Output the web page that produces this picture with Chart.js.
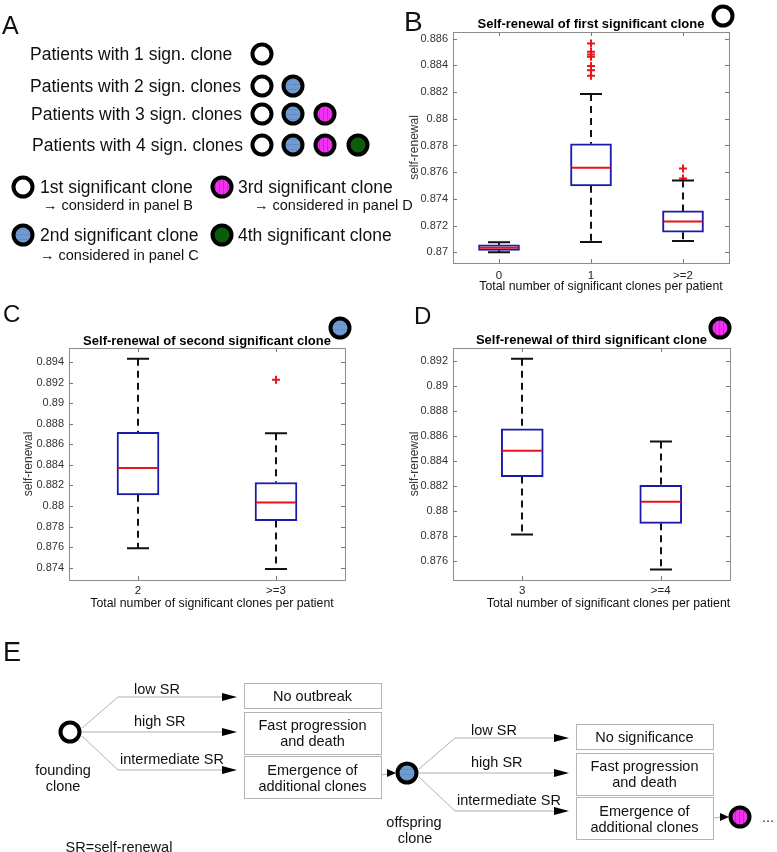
<!DOCTYPE html>
<html>
<head>
<meta charset="utf-8">
<script src="https://cdn.jsdelivr.net/npm/chart.js@4.4.0/dist/chart.umd.min.js"></script>
<style>
body { margin: 0; background: #fff; }
#fig { position: relative; width: 777px; height: 852px; overflow: hidden; font-family: 'Liberation Sans', Arial, sans-serif; }
canvas { position: absolute; }
#deco { position: absolute; left: 0; top: 0; pointer-events: none; }
</style>
</head>
<body>
<div id="fig">
  <canvas id="chartB" width="370" height="300" style="left:407px;top:0px"></canvas>
  <canvas id="chartC" width="372" height="320" style="left:21px;top:300px"></canvas>
  <canvas id="chartD" width="370" height="320" style="left:407px;top:300px"></canvas>
  <svg id="deco" width="777" height="852">
    <defs>
      <pattern id="pBlue" width="6" height="5" patternUnits="userSpaceOnUse">
        <rect width="6" height="5" fill="#6f9bd2"/>
        <line x1="0" y1="4.5" x2="6" y2="4.5" stroke="#5d86bb" stroke-width="0.7"/>
      </pattern>
      <pattern id="pMag" width="4" height="6" patternUnits="userSpaceOnUse">
        <rect width="4" height="6" fill="#f232f2"/>
        <line x1="3.5" y1="0" x2="3.5" y2="6" stroke="#c21cc2" stroke-width="0.7"/>
      </pattern>
    </defs>
  </svg>
</div>
<script>
// panel B: first significant clone
const bCats = ['0', '1', '>=2']
const bLow = [0.8700, 0.87077, 0.87084]
const bQ1 = [0.87015, 0.87498, 0.87151]
const bMed = [0.87035, 0.87634, 0.8723]
const bQ3 = [0.87057, 0.87813, 0.8731]
const bHigh = [0.87075, 0.88185, 0.87538]
const bOut = [[], [0.88564, 0.88502, 0.88482, 0.88464, 0.88396, 0.88363, 0.88322], [0.87627, 0.87553]]
const bTicks = [0.87, 0.872, 0.874, 0.876, 0.878, 0.88, 0.882, 0.884, 0.886]
const bRange = [0.8692, 0.8865]

// panel C: second significant clone
const cCats = ['2', '>=3']
const cLow = [0.87588, 0.87387]
const cQ1 = [0.88108, 0.87858]
const cMed = [0.88368, 0.88033]
const cQ3 = [0.88715, 0.88228]
const cHigh = [0.89432, 0.88708]
const cOut = [[], [0.89228]]
const cTicks = [0.874, 0.876, 0.878, 0.88, 0.882, 0.884, 0.886, 0.888, 0.89, 0.892, 0.894]
const cRange = [0.8728, 0.89536]

// panel D: third significant clone
const dCats = ['3', '>=4']
const dLow = [0.87811, 0.8753]
const dQ1 = [0.88275, 0.879]
const dMed = [0.88482, 0.88074]
const dQ3 = [0.88658, 0.88205]
const dHigh = [0.89221, 0.88557]
const dOut = [[], []]
const dTicks = [0.876, 0.878, 0.88, 0.882, 0.884, 0.886, 0.888, 0.89, 0.892]
const dRange = [0.87445, 0.89307]

const xTitle = 'Total number of significant clones per patient'
const fontFam = "'Liberation Sans', Arial, sans-serif"

Chart.defaults.font.family = fontFam

//whiskers, caps, medians, titles and the matlab style frame
function boxPlugin(s) {
    return {
        id: 'boxWhiskers',
        beforeDatasetsDraw(chart) {
            const ctx = chart.ctx, x = chart.scales.x, y = chart.scales.y
            ctx.save()
            ctx.strokeStyle = '#111'
            ctx.lineWidth = 2
            ctx.setLineDash([7, 5])
            s.low.forEach(function(v, i) {
                const px = Math.round(x.getPixelForValue(i))
                ctx.beginPath()
                ctx.moveTo(px, y.getPixelForValue(s.high[i]))
                ctx.lineTo(px, y.getPixelForValue(s.q3[i]))
                ctx.moveTo(px, y.getPixelForValue(s.q1[i]))
                ctx.lineTo(px, y.getPixelForValue(v))
                ctx.stroke()
            })
            ctx.restore()
        },
        afterDatasetsDraw(chart) {
            const ctx = chart.ctx, x = chart.scales.x, y = chart.scales.y
            ctx.save()
            ctx.lineWidth = 2
            s.low.forEach(function(v, i) {
                const px = Math.round(x.getPixelForValue(i))
                ctx.strokeStyle = '#111'
                ctx.beginPath()
                ctx.moveTo(px - 11, y.getPixelForValue(v))
                ctx.lineTo(px + 11, y.getPixelForValue(v))
                ctx.moveTo(px - 11, y.getPixelForValue(s.high[i]))
                ctx.lineTo(px + 11, y.getPixelForValue(s.high[i]))
                ctx.stroke()
                ctx.strokeStyle = '#e8141c'
                ctx.beginPath()
                ctx.moveTo(px - s.barW / 2 + 1, y.getPixelForValue(s.med[i]))
                ctx.lineTo(px + s.barW / 2 - 1, y.getPixelForValue(s.med[i]))
                ctx.stroke()
            })
            // frame
            const a = chart.chartArea
            ctx.strokeStyle = '#8c8c8c'
            ctx.lineWidth = 1
            ctx.strokeRect(Math.round(a.left) + 0.5, Math.round(a.top) + 0.5, Math.round(a.right - a.left), Math.round(a.bottom - a.top))
            ctx.strokeStyle = '#777'
            ctx.beginPath()
            s.ticks.forEach(function(t) {
                const py = Math.round(y.getPixelForValue(t)) + 0.5
                ctx.moveTo(a.left, py); ctx.lineTo(a.left + 4, py)
                ctx.moveTo(a.right - 4, py); ctx.lineTo(a.right, py)
            })
            s.low.forEach(function(v, i) {
                const px = Math.round(x.getPixelForValue(i)) + 0.5
                ctx.moveTo(px, a.bottom); ctx.lineTo(px, a.bottom - 4)
                ctx.moveTo(px, a.top); ctx.lineTo(px, a.top + 4)
            })
            ctx.stroke()
            // titles
            const mid = (a.left + a.right) / 2
            ctx.textAlign = 'center'
            ctx.textBaseline = 'middle'
            ctx.fillStyle = '#000'
            ctx.font = 'bold 13px ' + fontFam
            ctx.fillText(s.title, mid, s.titleY)
            ctx.fillStyle = '#111'
            ctx.font = '12.3px ' + fontFam
            ctx.fillText(xTitle, mid + s.xShift, s.xTitleY)
            ctx.restore()
        }
    }
}

function makeBox(id, s) {
    const outliers = []
    s.out.forEach(function(arr, i) {
        arr.forEach(function(v) { outliers.push({x: s.cats[i], y: v}) })
    })
    return new Chart(document.getElementById(id), {
        type: 'bar',
        data: {
            labels: s.cats,
            datasets: [{
                data: s.q1.map(function(v, i) { return [v, s.q3[i]] }),
                backgroundColor: '#ffffff',
                borderColor: '#1a1aac',
                borderWidth: 2,
                borderSkipped: false,
                barThickness: s.barW
            }, {
                type: 'scatter',
                data: outliers,
                pointStyle: 'cross',
                pointRadius: 4,
                pointBorderWidth: 2,
                borderColor: '#e8141c',
                backgroundColor: '#e8141c'
            }]
        },
        options: {
            responsive: false,
            animation: false,
            devicePixelRatio: 1,
            layout: { padding: { left: 0, right: s.padRight, top: s.padTop, bottom: 0 } },
            plugins: {
                legend: { display: false },
                tooltip: { enabled: false },
                title: { display: false }
            },
            scales: {
                x: {
                    offset: true,
                    grid: { display: false, drawTicks: false },
                    border: { display: false },
                    ticks: { color: '#222', font: { size: 11.5 }, padding: s.xTickPad },
                    afterFit: function(sc) { sc.height = s.xHeight }
                },
                y: {
                    min: s.range[0],
                    max: s.range[1],
                    grid: { display: false, drawTicks: false },
                    border: { display: false },
                    afterBuildTicks: function(sc) { sc.ticks = s.ticks.map(function(v) { return {value: v} }) },
                    ticks: {
                        autoSkip: false,
                        color: '#333',
                        font: { size: 11 },
                        padding: 5,
                        callback: function(v) { return String(parseFloat(v.toFixed(3))) }
                    },
                    title: { display: true, text: 'self-renewal', color: '#333', font: { size: 12 }, padding: 0 },
                    afterFit: function(sc) { sc.width = s.yWidth }
                }
            }
        },
        plugins: [boxPlugin(s)]
    })
}

makeBox('chartB', {
    cats: bCats, low: bLow, q1: bQ1, med: bMed, q3: bQ3, high: bHigh, out: bOut, ticks: bTicks, range: bRange,
    title: 'Self-renewal of first significant clone', barW: 41,
    yWidth: 46, padRight: 48, padTop: 32, xHeight: 37, xTickPad: 6, titleY: 24, xTitleY: 287, xShift: 10
})
makeBox('chartC', {
    cats: cCats, low: cLow, q1: cQ1, med: cMed, q3: cQ3, high: cHigh, out: cOut, ticks: cTicks, range: cRange,
    title: 'Self-renewal of second significant clone', barW: 42,
    yWidth: 48, padRight: 48, padTop: 48, xHeight: 40, xTickPad: 4, titleY: 41.7, xTitleY: 303.3, xShift: 5
})
makeBox('chartD', {
    cats: dCats, low: dLow, q1: dQ1, med: dMed, q3: dQ3, high: dHigh, out: dOut, ticks: dTicks, range: dRange,
    title: 'Self-renewal of third significant clone', barW: 42,
    yWidth: 46, padRight: 47, padTop: 48, xHeight: 40, xTickPad: 4, titleY: 40.7, xTitleY: 303.3, xShift: 17
})

// schematic parts (panel A, E and the clone markers)
const svg = document.getElementById('deco')
function el(tag, attrs, text) {
    const e = document.createElementNS('http://www.w3.org/2000/svg', tag)
    for (const k in attrs) e.setAttribute(k, attrs[k])
    if (text) e.textContent = text
    svg.appendChild(e)
    return e
}
const fills = { white: '#ffffff', blue: 'url(#pBlue)', magenta: 'url(#pMag)', green: '#0b5c0b' }
function clone(cx, cy, kind) {
    el('circle', { cx: cx, cy: cy, r: 9.5, fill: fills[kind], stroke: '#000', 'stroke-width': 4 })
}
function label(x, y, s, size, anchor) {
    el('text', { x: x, y: y, 'font-size': size, 'text-anchor': anchor || 'start', 'dominant-baseline': 'central', fill: '#111' }, s)
}

label(2, 25, 'A', 25)
label(404, 21, 'B', 28)
label(3, 313, 'C', 24)
label(414, 315, 'D', 24)
label(3, 652, 'E', 27)

clone(723, 16, 'white')
clone(340, 328, 'blue')
clone(720, 328, 'magenta')

// panel A
const kinds = ['white', 'blue', 'magenta', 'green']
const rowY = [54, 86, 114, 145]
const rowX = [262, 293, 325, 358]
rowY.forEach(function(y, i) {
    label(30 + (i > 1 ? i - 1 : 0), y, 'Patients with ' + (i + 1) + ' sign. clone' + (i ? 's' : ''), 17.5)
    for (let j = 0; j <= i; j++) clone(rowX[j], y, kinds[j])
})
clone(23, 187, 'white'); label(40, 187, '1st significant clone', 17.5); label(43, 205, '\u2192 considerd in panel B', 14.5)
clone(222, 187, 'magenta'); label(238, 187, '3rd significant clone', 17.5); label(254, 205, '\u2192 considered in panel D', 14.5)
clone(23, 235, 'blue'); label(40, 235, '2nd significant clone', 17.5); label(40, 255, '\u2192 considered in panel C', 14.5)
clone(222, 235, 'green'); label(238, 235, '4th significant clone', 17.5)

// panel E
function arrow(tip, y, len) {
    len = len || 15
    el('polygon', { points: (tip - len) + ',' + (y - 4) + ' ' + tip + ',' + y + ' ' + (tip - len) + ',' + (y + 4), fill: '#000' })
}
function box(x, y, w, h, lines, yc) {
    el('rect', { x: x + 0.5, y: y + 0.5, width: w, height: h, fill: '#fff', stroke: '#b4b4b4', 'stroke-width': 1 })
    lines.forEach(function(t, k) { label(x + w / 2, yc[k], t, 14.5, 'middle') })
}
function stage(cx, cy, bx, texts, kind) {
    const ys = [cy - 35, cy, cy + 38]
    const g = { fill: 'none', stroke: '#b0b0b0', 'stroke-width': 1 }
    el('polyline', Object.assign({ points: (cx + 12) + ',' + (cy - 4) + ' ' + (cx + 48) + ',' + ys[0] + ' ' + (bx - 22) + ',' + ys[0] }, g))
    el('polyline', Object.assign({ points: (cx + 12) + ',' + cy + ' ' + (bx - 22) + ',' + cy }, g))
    el('polyline', Object.assign({ points: (cx + 12) + ',' + (cy + 4) + ' ' + (cx + 48) + ',' + ys[2] + ' ' + (bx - 22) + ',' + ys[2] }, g))
    ys.forEach(function(y) { arrow(bx - 7, y) })
    label(cx + 64, ys[0] - 8, 'low SR', 14.5)
    label(cx + 64, ys[1] - 11, 'high SR', 14.5)
    label(cx + 50, ys[2] - 11, 'intermediate SR', 14.5)
    clone(cx, cy, kind)
    box(bx, cy - 49, 137, 25, [texts[0]], [cy - 36])
    box(bx, cy - 20, 137, 42, ['Fast progression', 'and death'], [cy - 7, cy + 9])
    box(bx, cy + 24, 137, 42, ['Emergence of', 'additional clones'], [cy + 38, cy + 54])
}
stage(70, 732, 244, ['No outbreak'], 'white')
stage(407, 773, 576, ['No significance'], 'blue')
label(63, 770, 'founding', 14.5, 'middle')
label(63, 786, 'clone', 14.5, 'middle')
label(414, 822, 'offspring', 14.5, 'middle')
label(415, 838, 'clone', 14.5, 'middle')
label(119, 847, 'SR=self-renewal', 14.5, 'middle')
el('line', { x1: 381, y1: 775, x2: 388, y2: 774, stroke: '#b0b0b0' })
arrow(396, 773, 9)
el('line', { x1: 713, y1: 818, x2: 721, y2: 817, stroke: '#b0b0b0' })
arrow(729, 817, 9)
clone(740, 817, 'magenta')
label(762, 817, '...', 14.5)
</script>
</body>
</html>
